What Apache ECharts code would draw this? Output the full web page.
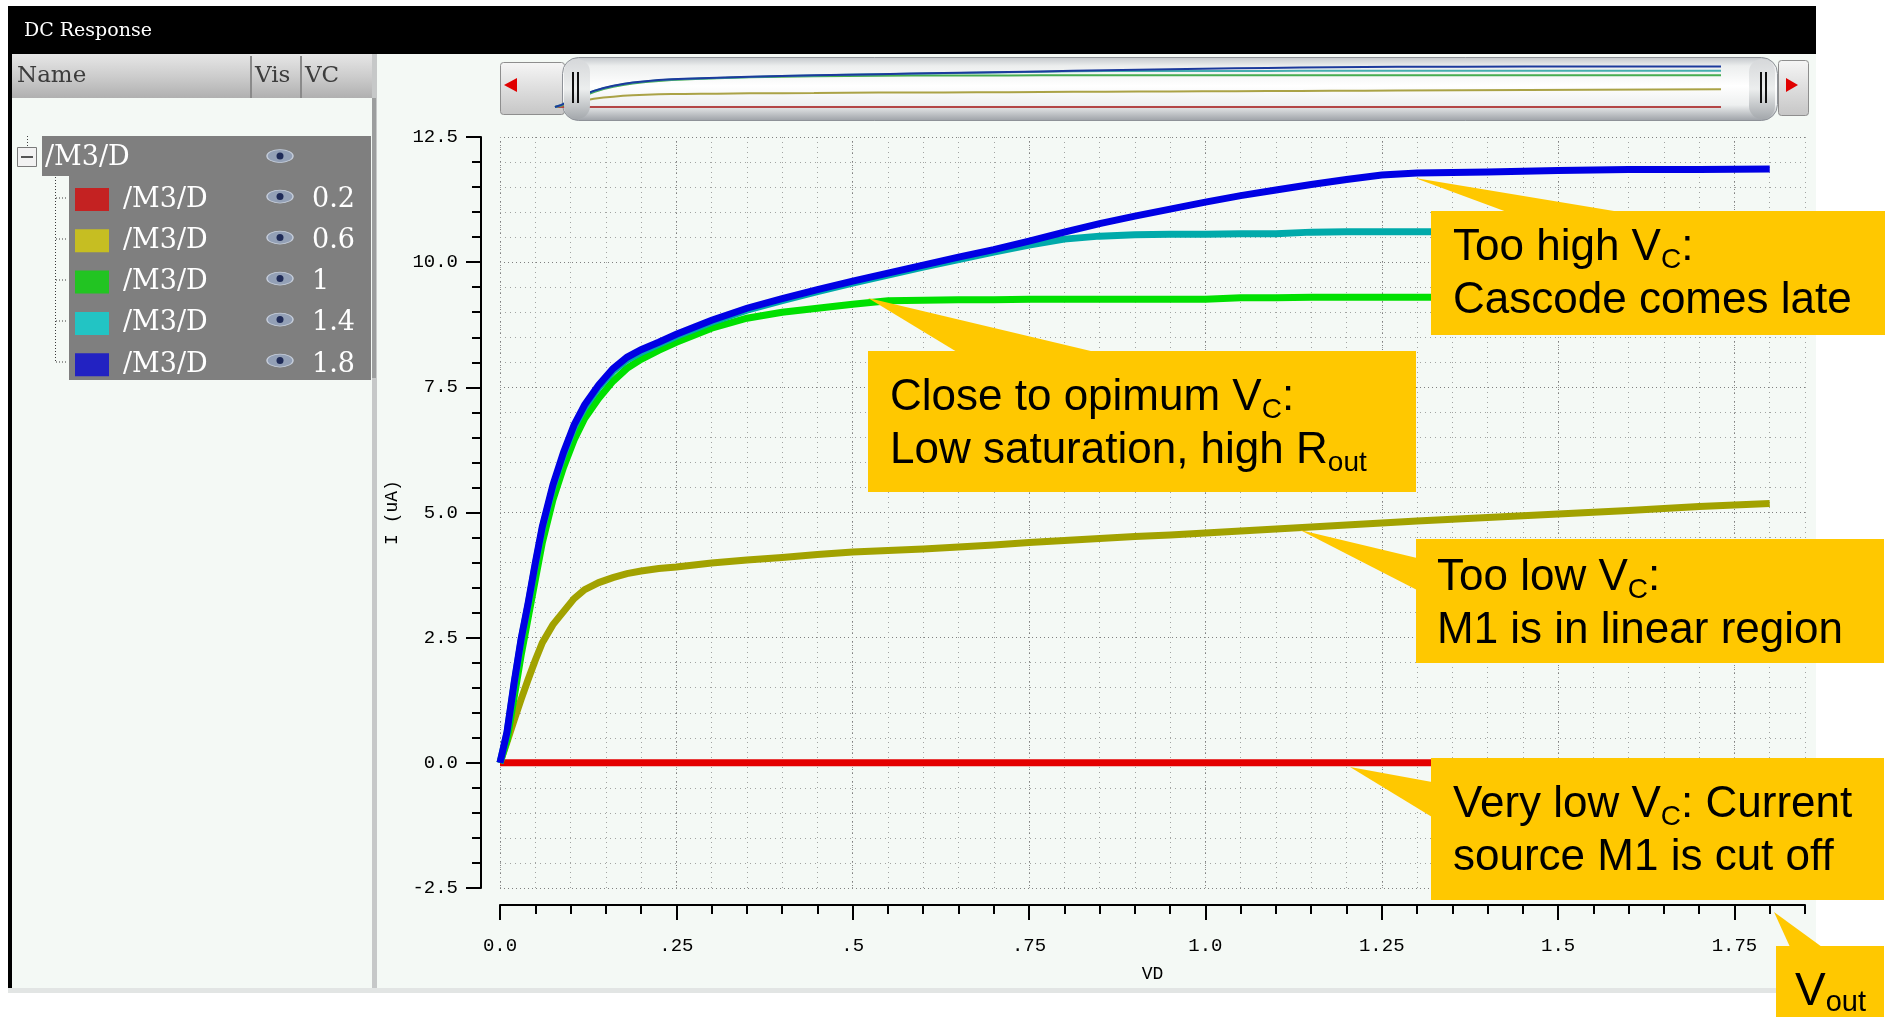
<!DOCTYPE html>
<html>
<head>
<meta charset="utf-8">
<title>DC Response</title>
<script src="https://cdn.jsdelivr.net/npm/echarts@6.0.0/dist/echarts.min.js"></script>
<style>
  html, body { margin: 0; padding: 0; background: #ffffff; overflow: hidden; }
  #chart { width: 1894px; height: 1017px; }
</style>
</head>
<body>
<div id="chart"></div>
<script>
// DC sweep of the cascode drain: I(uA) against VD for five VC settings
const VD = [0, 0.01, 0.02, 0.03, 0.04, 0.05, 0.06, 0.075, 0.09, 0.105, 0.12, 0.14, 0.16, 0.18, 0.2, 0.225, 0.25,
  0.3, 0.35, 0.4, 0.45, 0.5, 0.55, 0.6, 0.65, 0.7, 0.75, 0.8, 0.85, 0.9, 0.95, 1.0, 1.05, 1.1, 1.15, 1.2, 1.25,
  1.3, 1.4, 1.5, 1.6, 1.7, 1.8];

const I_VC02 = [0, 0, 0, 0, 0, 0, 0, 0, 0, 0, 0, 0, 0, 0, 0, 0, 0,
  0, 0, 0, 0, 0, 0, 0, 0, 0, 0, 0, 0, 0, 0, 0, 0, 0, 0, 0, 0,
  0, 0, 0, 0, 0, 0];

const I_VC06 = [0, 0.42, 0.85, 1.27, 1.67, 2.05, 2.4, 2.76, 3.02, 3.28, 3.46, 3.6, 3.7, 3.78, 3.83, 3.88, 3.91,
  3.99, 4.05, 4.1, 4.16, 4.21, 4.24, 4.27, 4.31, 4.35, 4.4, 4.44, 4.48, 4.52, 4.55, 4.59, 4.63, 4.67, 4.71, 4.75, 4.79,
  4.83, 4.9, 4.97, 5.04, 5.12, 5.18];

const I_VC10 = [0, 0.45, 1.3, 2.15, 2.9, 3.65, 4.4, 5.25, 5.9, 6.45, 6.88, 7.28, 7.62, 7.88, 8.06, 8.24, 8.4,
  8.68, 8.88, 9.0, 9.08, 9.16, 9.23, 9.24, 9.25, 9.25, 9.26, 9.26, 9.26, 9.26, 9.26, 9.26, 9.29, 9.29, 9.3, 9.3, 9.3,
  9.3, 9.3, 9.3, 9.31, 9.31, 9.31];

const I_VC14 = [0, 0.6, 1.57, 2.45, 3.17, 3.95, 4.68, 5.5, 6.15, 6.7, 7.1, 7.5, 7.82, 8.05, 8.2, 8.36, 8.52,
  8.8, 9.04, 9.23, 9.41, 9.58, 9.74, 9.9, 10.05, 10.2, 10.34, 10.46, 10.52, 10.55, 10.56, 10.56, 10.57, 10.57, 10.6, 10.61, 10.61,
  10.61, 10.61, 10.62, 10.62, 10.62, 10.62];

const I_VC18 = [0, 0.62, 1.6, 2.48, 3.2, 3.99, 4.72, 5.55, 6.2, 6.75, 7.15, 7.55, 7.87, 8.1, 8.25, 8.4, 8.56,
  8.84, 9.08, 9.27, 9.45, 9.62, 9.78, 9.94, 10.1, 10.25, 10.42, 10.6, 10.77, 10.92, 11.06, 11.2, 11.33, 11.44, 11.55, 11.65, 11.74,
  11.78, 11.8, 11.83, 11.85, 11.85, 11.86];

const VC_NAMES = ['0.2', '0.6', '1', '1.4', '1.8'];
const TRACE_VALUES = [I_VC02, I_VC06, I_VC10, I_VC14, I_VC18];

const LINE_COLORS = ['#e40000', '#a2a200', '#00e000', '#00aaaa', '#0000e4'];
const SWATCH_COLORS = ['#c42222', '#c6be22', '#22c422', '#22c4c4', '#2222c2'];
const PREVIEW_COLORS = ['#b44646', '#aaa246', '#46ac50', '#46aeae', '#1c3a9c'];

const X_TICKS = [0, 0.25, 0.5, 0.75, 1.0, 1.25, 1.5, 1.75];
const X_TICK_LABELS = ['0.0', '.25', '.5', '.75', '1.0', '1.25', '1.5', '1.75'];
const Y_TICK_LABELS = ['-2.5', '0.0', '2.5', '5.0', '7.5', '10.0', '12.5'];

const UI_FONT = '"DejaVu Serif", serif';
const AXIS_FONT = '"Liberation Mono", "DejaVu Sans Mono", monospace';
const NOTE_FONT = '"Liberation Sans", Arial, sans-serif';
const NOTE_FILL = '#ffc800';

function xLabel(v) {
  const k = Math.round(v / 0.25);
  return Math.abs(v - k * 0.25) < 1e-6 && X_TICK_LABELS[k] !== undefined ? X_TICK_LABELS[k] : '';
}
function yLabel(v) {
  const k = Math.round((v + 2.5) / 2.5);
  return Math.abs(v - (k * 2.5 - 2.5)) < 1e-6 && Y_TICK_LABELS[k] !== undefined ? Y_TICK_LABELS[k] : '';
}
function vGrad(stops) {
  return { type: 'linear', x: 0, y: 0, x2: 0, y2: 1,
    colorStops: stops.map(s => ({ offset: s[0], color: s[1] })) };
}
function label(x, y, text, font, fill, align) {
  return { type: 'text', z: 3, silent: true,
    style: { x, y, text, font, fill, textAlign: align || 'left', align: align || 'left',
      textVerticalAlign: 'middle', verticalAlign: 'middle' } };
}

const G = [];

// window body, title bar, borders
G.push({ type: 'rect', z: -20, silent: true, shape: { x: 8, y: 6, width: 1808, height: 983 }, style: { fill: '#f4f9f5' } });
G.push({ type: 'rect', z: -19, silent: true, shape: { x: 8, y: 6, width: 1808, height: 48 }, style: { fill: '#000000' } });
G.push({ type: 'rect', z: -19, silent: true, shape: { x: 8, y: 6, width: 4, height: 983 }, style: { fill: '#000000' } });
G.push({ type: 'rect', z: -19, silent: true, shape: { x: 8, y: 988, width: 1808, height: 5 }, style: { fill: '#e2e5e4' } });
G.push(label(24, 31, 'DC Response', '19px ' + UI_FONT, '#ffffff'));

// signal list panel
G.push({ type: 'rect', z: -18, silent: true, shape: { x: 12, y: 54, width: 362, height: 44 },
  style: { fill: vGrad([[0, '#e6e6e6'], [0.5, '#cdcdcd'], [1, '#b0b0b0']]) } });
G.push({ type: 'rect', z: -17, silent: true, shape: { x: 250, y: 56, width: 2, height: 42 }, style: { fill: '#8a8a8a' } });
G.push({ type: 'rect', z: -17, silent: true, shape: { x: 300, y: 56, width: 2, height: 42 }, style: { fill: '#8a8a8a' } });
G.push({ type: 'rect', z: -17, silent: true, shape: { x: 372, y: 54, width: 5, height: 934 }, style: { fill: '#c6c8c8' } });
G.push({ type: 'rect', z: -16, silent: true, shape: { x: 372, y: 98, width: 4, height: 280 }, style: { fill: '#9c9e9e' } });
G.push(label(17, 76, 'Name', '23px ' + UI_FONT, '#3c3c3c'));
G.push(label(255, 76, 'Vis', '23px ' + UI_FONT, '#3c3c3c'));
G.push(label(305, 76, 'VC', '23px ' + UI_FONT, '#3c3c3c'));

// tree of the drain signal
G.push({ type: 'rect', z: 1, silent: true, shape: { x: 42, y: 136, width: 329, height: 40 }, style: { fill: '#7f7f7f' } });
G.push({ type: 'rect', z: 1, silent: true, shape: { x: 69, y: 176, width: 302, height: 204 }, style: { fill: '#7f7f7f' } });
G.push({ type: 'line', z: 1, silent: true, shape: { x1: 27.5, y1: 136, x2: 27.5, y2: 147 }, style: { stroke: '#404040', lineWidth: 1, lineDash: [1, 2] } });
G.push({ type: 'rect', z: 2, silent: true, shape: { x: 17.5, y: 147.5, width: 19, height: 19 }, style: { fill: '#f2f2f2', stroke: '#7a7a7a', lineWidth: 1 } });
G.push({ type: 'line', z: 3, silent: true, shape: { x1: 21, y1: 157, x2: 33, y2: 157 }, style: { stroke: '#555555', lineWidth: 2 } });
G.push({ type: 'line', z: 1, silent: true, shape: { x1: 55.5, y1: 177, x2: 55.5, y2: 362 }, style: { stroke: '#3a3a3a', lineWidth: 1, lineDash: [1, 2] } });
G.push(label(45, 158, '/M3/D', '27px ' + UI_FONT, '#ffffff'));
const ROW_Y = [157, 197.5, 238.5, 279.5, 320.5, 361.5];
ROW_Y.forEach((y, i) => {
  if (i > 0) {
    G.push({ type: 'line', z: 1, silent: true, shape: { x1: 56, y1: y + 0.5, x2: 68, y2: y + 0.5 }, style: { stroke: '#3a3a3a', lineWidth: 1, lineDash: [1, 2] } });
  }
  G.push({ type: 'circle', z: 5, silent: true, x: 280, y: y - 1, scaleY: 0.5, shape: { cx: 0, cy: 0, r: 13 },
    style: { fill: '#93a0b6', stroke: '#c6cedb', lineWidth: 1.5 } });
  G.push({ type: 'circle', z: 6, silent: true, shape: { cx: 280, cy: y - 1, r: 3.5 }, style: { fill: '#1f2b58' } });
});

// overview strip above the plot
G.push({ type: 'rect', z: -5, silent: true, shape: { x: 500.5, y: 62.5, width: 64, height: 52, r: 3 },
  style: { fill: vGrad([[0, '#f6f6f6'], [1, '#c6c6c6']]), stroke: '#8e8e8e', lineWidth: 1 } });
G.push({ type: 'polygon', z: -4, silent: true, shape: { points: [[504, 85], [517, 78], [517, 92]] }, style: { fill: '#e00000' } });
G.push({ type: 'rect', z: -4, silent: true, shape: { x: 562.5, y: 57.5, width: 1215, height: 63, r: 16 },
  style: { fill: vGrad([[0, '#c2c6ca'], [0.14, '#eceeee'], [0.45, '#ffffff'], [0.75, '#eef0f0'], [1, '#9ca0a6']]), stroke: '#8e9298', lineWidth: 1 } });
G.push({ type: 'rect', z: 6, silent: true, shape: { x: 564, y: 59, width: 26, height: 60, r: 13 },
  style: { fill: vGrad([[0, '#d6d8da'], [0.5, '#eceeee'], [1, '#a4a8ac']]) } });
G.push({ type: 'rect', z: 6, silent: true, shape: { x: 1749, y: 59, width: 26, height: 60, r: 13 },
  style: { fill: vGrad([[0, '#d6d8da'], [0.5, '#eceeee'], [1, '#a4a8ac']]) } });
[572, 577, 1760, 1765].forEach(x => {
  G.push({ type: 'rect', z: 7, silent: true, shape: { x, y: 72, width: 2, height: 31 }, style: { fill: '#111111' } });
});
G.push({ type: 'rect', z: -5, silent: true, shape: { x: 1778.5, y: 60.5, width: 30, height: 55, r: 3 },
  style: { fill: vGrad([[0, '#f6f6f6'], [1, '#c6c6c6']]), stroke: '#8e8e8e', lineWidth: 1 } });
G.push({ type: 'polygon', z: -4, silent: true, shape: { points: [[1798, 85], [1786, 78], [1786, 92]] }, style: { fill: '#e00000' } });

// callouts
const NOTE_RICH = {
  m: { fontSize: 44, fontFamily: NOTE_FONT, lineHeight: 53, fill: '#000000' },
  s: { fontSize: 28, fontFamily: NOTE_FONT, lineHeight: 21, verticalAlign: 'bottom', fill: '#000000' }
};
function note(rect, pointer, textX, textY, text, rich) {
  G.push({ type: 'polygon', z: 100, silent: true, shape: { points: pointer }, style: { fill: NOTE_FILL } });
  G.push({ type: 'rect', z: 100, silent: true, shape: rect, style: { fill: NOTE_FILL } });
  G.push({ type: 'text', z: 101, silent: true,
    style: { x: textX, y: textY, text, rich: rich || NOTE_RICH, textAlign: 'left', align: 'left',
      textVerticalAlign: 'top', verticalAlign: 'top' } });
}
note({ x: 1431, y: 211, width: 454, height: 124 }, [[1415, 178], [1507, 212], [1620, 212]],
  1453, 221, '{m|Too high V}{s|C}{m|:}\n{m|Cascode comes late}');
note({ x: 868, y: 351, width: 548, height: 141 }, [[868, 298], [957, 352], [1095, 352]],
  890, 371, '{m|Close to opimum V}{s|C}{m|:}\n{m|Low saturation, high R}{s|out}');
note({ x: 1416, y: 539, width: 468, height: 124 }, [[1300, 530], [1417, 558], [1417, 590]],
  1437, 551, '{m|Too low V}{s|C}{m|:}\n{m|M1 is in linear region}');
note({ x: 1431, y: 758, width: 453, height: 142 }, [[1350, 767], [1432, 782], [1432, 817]],
  1453, 778, '{m|Very low V}{s|C}{m|: Current}\n{m|source M1 is cut off}');
note({ x: 1776, y: 946, width: 108, height: 71 }, [[1774, 912], [1790, 947], [1822, 947]],
  1795, 967, '{m|V}{s|out}', {
    m: { fontSize: 46, fontFamily: NOTE_FONT, lineHeight: 50, fill: '#000000' },
    s: { fontSize: 29, fontFamily: NOTE_FONT, lineHeight: 28, verticalAlign: 'bottom', fill: '#000000' }
  });

function pairs(values) { return VD.map((v, i) => [v, values[i]]); }

const mainSeries = VC_NAMES.map((name, s) => ({
  type: 'line', name, xAxisIndex: 0, yAxisIndex: 0, data: pairs(TRACE_VALUES[s]),
  showSymbol: false, symbol: 'none', silent: true, animation: false, z: 3 + s,
  lineStyle: { color: LINE_COLORS[s], width: 7, cap: 'butt', join: 'miter' },
  itemStyle: { color: LINE_COLORS[s] }
}));
const previewSeries = VC_NAMES.map((name, s) => ({
  type: 'line', name, xAxisIndex: 2, yAxisIndex: 1, data: pairs(TRACE_VALUES[s]),
  showSymbol: false, symbol: 'none', silent: true, animation: false, z: 3,
  lineStyle: { color: PREVIEW_COLORS[s], width: 2 },
  itemStyle: { color: PREVIEW_COLORS[s] }
}));

const GRID_MAJOR = { color: '#808080', width: 1, type: [1, 3] };
const GRID_MINOR = { color: '#a2a4a2', width: 1, type: [1, 4] };

const option = {
  animation: false,
  backgroundColor: '#ffffff',
  grid: [
    { left: 500, top: 137, width: 1305, height: 751, containLabel: false, outerBoundsMode: 'none' },
    { left: 555, top: 66, width: 1166, height: 41, containLabel: false, outerBoundsMode: 'none' }
  ],
  legend: {
    orient: 'vertical', left: 75, top: 186, padding: 0,
    itemWidth: 34, itemHeight: 23, itemGap: 14.3, icon: 'rect', selectedMode: false,
    data: VC_NAMES.map((name, s) => ({ name, itemStyle: { color: SWATCH_COLORS[s], borderWidth: 0 } })),
    formatter: name => '{n|/M3/D}{v|' + name + '}',
    textStyle: {
      color: '#ffffff', padding: [0, 0, 0, 9],
      rich: {
        n: { width: 189, fontFamily: UI_FONT, fontSize: 27, color: '#ffffff', lineHeight: 23 },
        v: { fontFamily: UI_FONT, fontSize: 27, color: '#ffffff', lineHeight: 23 }
      }
    }
  },
  xAxis: [
    {
      gridIndex: 0, type: 'value', position: 'bottom', offset: 17, min: 0, max: 1.85, interval: 0.25,
      name: 'VD', nameLocation: 'middle', nameGap: 60,
      nameTextStyle: { fontFamily: AXIS_FONT, fontSize: 18, color: '#000000' },
      axisLine: { show: true, onZero: false, lineStyle: { color: '#000000', width: 2 } },
      axisTick: { show: true, length: 15, customValues: X_TICKS, lineStyle: { color: '#000000', width: 2 } },
      axisLabel: { show: true, customValues: X_TICKS, margin: 31, formatter: xLabel,
        fontFamily: AXIS_FONT, fontSize: 19, color: '#000000' },
      splitLine: { show: true, lineStyle: GRID_MAJOR }
    },
    {
      gridIndex: 0, type: 'value', position: 'bottom', offset: 17, min: 0, max: 1.85, interval: 0.05,
      axisLine: { show: false, onZero: false },
      axisTick: { show: true, length: 9, lineStyle: { color: '#000000', width: 2 } },
      axisLabel: { show: false },
      splitLine: { show: true, lineStyle: GRID_MINOR }
    },
    {
      gridIndex: 1, type: 'value', min: 0, max: 1.8, show: false,
      axisLine: { show: false, onZero: false }, splitLine: { show: false }
    }
  ],
  yAxis: [
    {
      gridIndex: 0, type: 'value', position: 'left', offset: 19, min: -2.5, max: 12.5, interval: 2.5,
      name: 'I (uA)', nameLocation: 'middle', nameGap: 80,
      nameTextStyle: { fontFamily: AXIS_FONT, fontSize: 18, color: '#000000' },
      axisLine: { show: true, onZero: false, lineStyle: { color: '#000000', width: 2 } },
      axisTick: { show: true, length: 15, lineStyle: { color: '#000000', width: 2 } },
      minorTick: { show: true, splitNumber: 5, length: 9, lineStyle: { color: '#000000', width: 2 } },
      axisLabel: { show: true, margin: 23, formatter: yLabel, fontFamily: AXIS_FONT, fontSize: 19, color: '#000000' },
      splitLine: { show: true, lineStyle: GRID_MAJOR },
      minorSplitLine: { show: true, lineStyle: GRID_MINOR }
    },
    {
      gridIndex: 1, type: 'value', min: 0, max: 12, show: false,
      axisLine: { show: false, onZero: false }, splitLine: { show: false }
    }
  ],
  graphic: { elements: G },
  series: mainSeries.concat(previewSeries)
};

const chart = echarts.init(document.getElementById('chart'), null, { renderer: 'canvas', width: 1894, height: 1017 });
chart.setOption(option);
</script>
</body>
</html>
